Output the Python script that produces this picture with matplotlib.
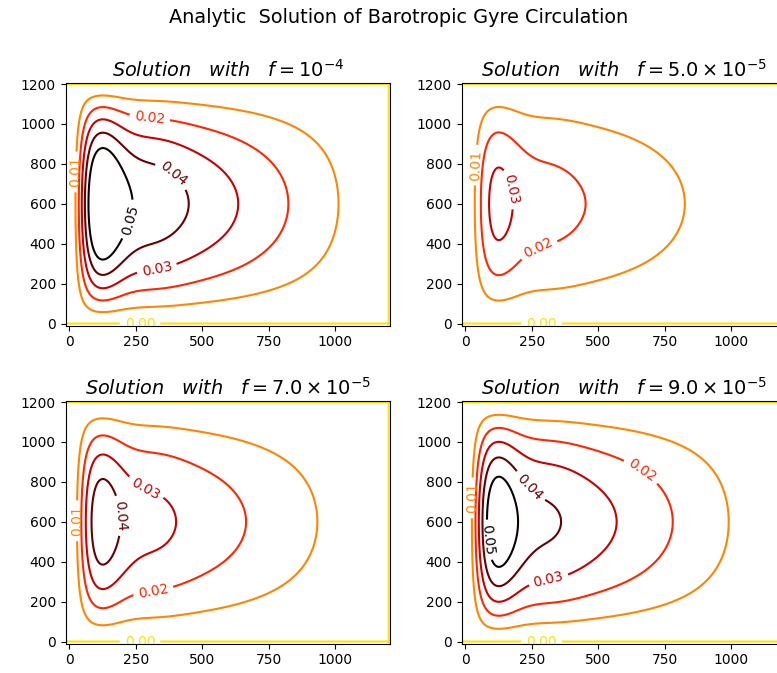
import numpy as np
import matplotlib
matplotlib.use("Agg")
import matplotlib.pyplot as plt
from matplotlib.colors import Normalize

# square basin (km) and width of the western (Munk) layer
basin_len = 1200.0
layer_width = 37.0
x_lim = (-13, 1205)
y_lim = (-11, 1204)

f_labels = [r"10^{-4}", r"5.0\times 10^{-5}", r"7.0\times 10^{-5}", r"9.0\times 10^{-5}"]
# interior streamfunction scale
amplitudes = [0.0637, 0.0320, 0.0448, 0.0571]
levels = [0.00, 0.01, 0.02, 0.03, 0.04, 0.05]

# where the inline labels sit (data coords)
label_spots = [
    [(266, 0), (6, 760), (303, 1040), (330, 270), (394, 755), (217, 525)],
    [(287, 0), (29, 795), (272, 385), (160, 670)],
    [(266, 0), (14, 605), (315, 260), (289, 775), (183, 630)],
    [(287, 0), (17, 720), (677, 885), (313, 310), (238, 770), (92, 510)],
]

x = np.linspace(x_lim[0], x_lim[1], 500)
y = np.linspace(y_lim[0], y_lim[1], 500)
X, Y = np.meshgrid(x, y)

xi = X / layer_width
w = np.sqrt(3) / 2
c = (1 - 2 * layer_width / basin_len) / np.sqrt(3)
xpart = 1 - X / basin_len - np.exp(-xi / 2) * (np.cos(w * xi) + c * np.sin(w * xi))
shape = xpart * np.sin(np.pi * Y / basin_len)

fig = plt.figure(figsize=(7.77, 6.73), dpi=100)
W, H = 777, 673
boxes = [(65.7, 83.3), (461.7, 83.3), (65.7, 401.3), (461.7, 401.3)]
aw, ah = 324.3, 242.4
norm = Normalize(vmin=-0.021, vmax=0.05)

for i, (px, py) in enumerate(boxes):
    ax = fig.add_axes([px / W, 1 - (py + ah) / H, aw / W, ah / H])
    psi = amplitudes[i] * shape
    cs = ax.contour(X, Y, psi, levels=levels, cmap="hot_r", norm=norm)
    cs.clabel(manual=label_spots[i], inline=True, fontsize=10, fmt="%1.2f")
    ax.set_xlim(x_lim)
    ax.set_ylim(y_lim)
    ax.set_xticks([0, 250, 500, 750, 1000])
    ax.set_yticks(range(0, 1201, 200))
    ax.set_title(r"$\it{Solution}$   $\it{with}$   $f=" + f_labels[i] + "$", fontsize=13.9, pad=5)

fig.suptitle("Analytic  Solution of Barotropic Gyre Circulation", x=399 / W, y=0.988, fontsize=13.9)
fig.savefig("out.png", dpi=100)
